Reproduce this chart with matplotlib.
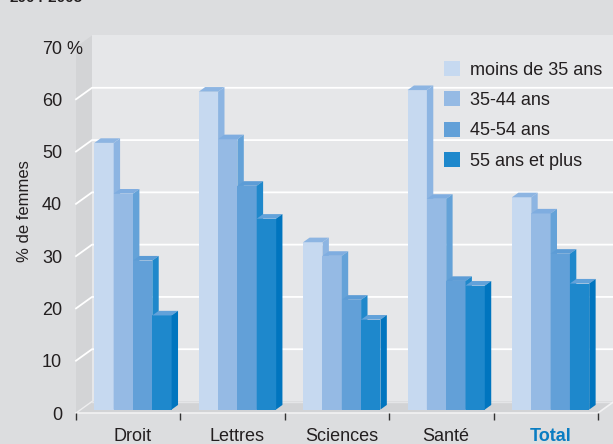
import matplotlib
matplotlib.use('Agg')
import matplotlib.pyplot as plt
from matplotlib.patches import Polygon, Patch
from matplotlib.lines import Line2D
from matplotlib.transforms import IdentityTransform, ScaledTranslation

plt.rcParams['font.family'] = ['Liberation Sans', 'DejaVu Sans']

# ---------------- data ----------------
categories = ['Droit', 'Lettres', 'Sciences', 'Santé', 'Total']
series_labels = ['moins de 35 ans', '35-44 ans', '45-54 ans', '55 ans et plus']
moins_35 = [51.0, 60.8, 32.0, 61.1, 40.6]
ans_35_44 = [41.3, 51.7, 29.4, 40.3, 37.5]
ans_45_54 = [28.5, 42.8, 21.0, 24.6, 29.8]
ans_55_plus = [18.0, 36.5, 17.2, 23.7, 24.1]
yticks = [0, 10, 20, 30, 40, 50, 60, 70]
title = '2004-2005'
ylabel = '% de femmes'

series = [moins_35, ans_35_44, ans_45_54, ans_55_plus]

# ---------------- style ----------------
front_c = ['#c6d9f0', '#95bae4', '#62a0d8', '#1e88cc']
top_c = ['#8db5e2', '#7fade0', '#5c9cd6', '#62a2da']
side_c = ['#8db5e2', '#64a2d8', '#1f88cb', '#0075bf']
txt = '#231f20'

W, H = 613, 444
fig = plt.figure(figsize=(W / 100, H / 100), dpi=100)
fig.patch.set_facecolor('#dcdddf')
L, R, B, T = 76, 598, 413, 47
ax = fig.add_axes([L / W, 1 - B / H, (R - L) / W, (B - T) / H])
ax.set_xlim(-0.5, len(categories) - 0.5)
ax.set_ylim(0, 70)
ax.patch.set_visible(False)
for s in ax.spines.values():
    s.set_visible(False)

DX, DY = 16, 11.5  # depth offset of back wall in pixels
ID = IdentityTransform()


def P(x, y, d):
    px, py = ax.transData.transform((x, y))
    return (px + DX * d, py + DY * d)


def poly(pts, color, z):
    ax.add_patch(Polygon(pts, closed=True, facecolor=color, edgecolor='none',
                         linewidth=0, transform=ID, clip_on=False, zorder=z))


def line(pts, color, lw, z):
    xs = [p[0] for p in pts]
    ys = [p[1] for p in pts]
    ax.add_line(Line2D(xs, ys, color=color, lw=lw, transform=ID, clip_on=False, zorder=z))


x0, x1 = -0.5, len(categories) - 0.5
ymax = yticks[-1]
# walls
poly([P(x0, 0, 1), P(x1, 0, 1), P(x1, ymax, 1), P(x0, ymax, 1)], '#e6e7e9', 0.1)
poly([P(x0, 0, 0), P(x0, 0, 1), P(x0, ymax, 1), P(x0, ymax, 0)], '#d3d4d6', 0.1)
poly([P(x0, 0, 0), P(x1, 0, 0), P(x1, 0, 1), P(x0, 0, 1)], '#d2d3d5', 0.1)
# gridlines
for yv in yticks[1:-1]:
    line([P(x0, yv, 0), P(x0, yv, 1), P(x1, yv, 1)], 'white', 1.3, 0.5)
# floor edges
line([P(x0, 0, 1), P(x1, 0, 1)], '#e4e5e7', 1.0, 0.5)
line([P(x0, 0, 0), P(x1, 0, 0), P(x1, 0, 1)], '#f2f2f3', 1.2, 0.5)
line([P(x0, 0, 0), P(x0, 0, 1)], '#eeeeef', 1.0, 0.5)

# bars
w = 0.185
d0, d1 = 0.3, 0.7
z = 2
for i in range(len(categories)):
    left = i - 0.37
    for j, vals in enumerate(series):
        v = vals[i]
        xa, xb = left + j * w, left + (j + 1) * w
        poly([P(xa, 0, d0), P(xb, 0, d0), P(xb, v, d0), P(xa, v, d0)], front_c[j], z)
        poly([P(xa, v, d0), P(xb, v, d0), P(xb, v, d1), P(xa, v, d1)], top_c[j], z + 0.1)
        poly([P(xb, 0, d0), P(xb, 0, d1), P(xb, v, d1), P(xb, v, d0)], side_c[j], z + 0.1)
        z += 0.2

# axes ticks / labels
ax.set_yticks(yticks)
ax.set_yticklabels([str(t) for t in yticks])
ax.tick_params(axis='y', length=0, pad=10, labelsize=13, labelcolor=txt)
ax.annotate(' %', xy=(x0, ymax), xycoords='data', xytext=(-14, 0),
            textcoords='offset pixels', ha='left', va='center_baseline',
            fontsize=13, color=txt, annotation_clip=False)

ax.set_xticks(range(len(categories)))
ax.set_xticklabels(categories)
ax.set_xticks([k - 0.5 for k in range(len(categories) + 1)], minor=True)
ax.tick_params(axis='x', which='major', length=0, pad=11, labelsize=13, labelcolor=txt)
ax.tick_params(axis='x', which='minor', length=5, width=1, color='#333333', direction='out')
shift = ScaledTranslation(4.5 / 100, 0, fig.dpi_scale_trans)
for lab in ax.get_xticklabels():
    lab.set_transform(lab.get_transform() + shift)
tl = ax.get_xticklabels()[-1]
tl.set_color('#0a7dc2')
tl.set_fontweight('bold')

fig.text(25 / W, 1 - 211 / H, ylabel, rotation=90, ha='center', va='center',
         fontsize=12, color=txt)
fig.text(10 / W, 1 - 2.5 / H, title, ha='left', va='baseline', fontsize=11,
         fontweight='bold', color=txt)

handles = [Patch(facecolor=c, edgecolor='none') for c in front_c]
ax.legend(handles, series_labels, loc='upper left',
          bbox_to_anchor=(444 / W, 1 - 61 / H), bbox_transform=fig.transFigure,
          frameon=False, fontsize=13, handlelength=0.9, handleheight=0.9,
          handletextpad=0.55, labelspacing=0.7, borderpad=0, borderaxespad=0,
          labelcolor=txt)

fig.savefig('out.png', dpi=100, facecolor=fig.get_facecolor())
